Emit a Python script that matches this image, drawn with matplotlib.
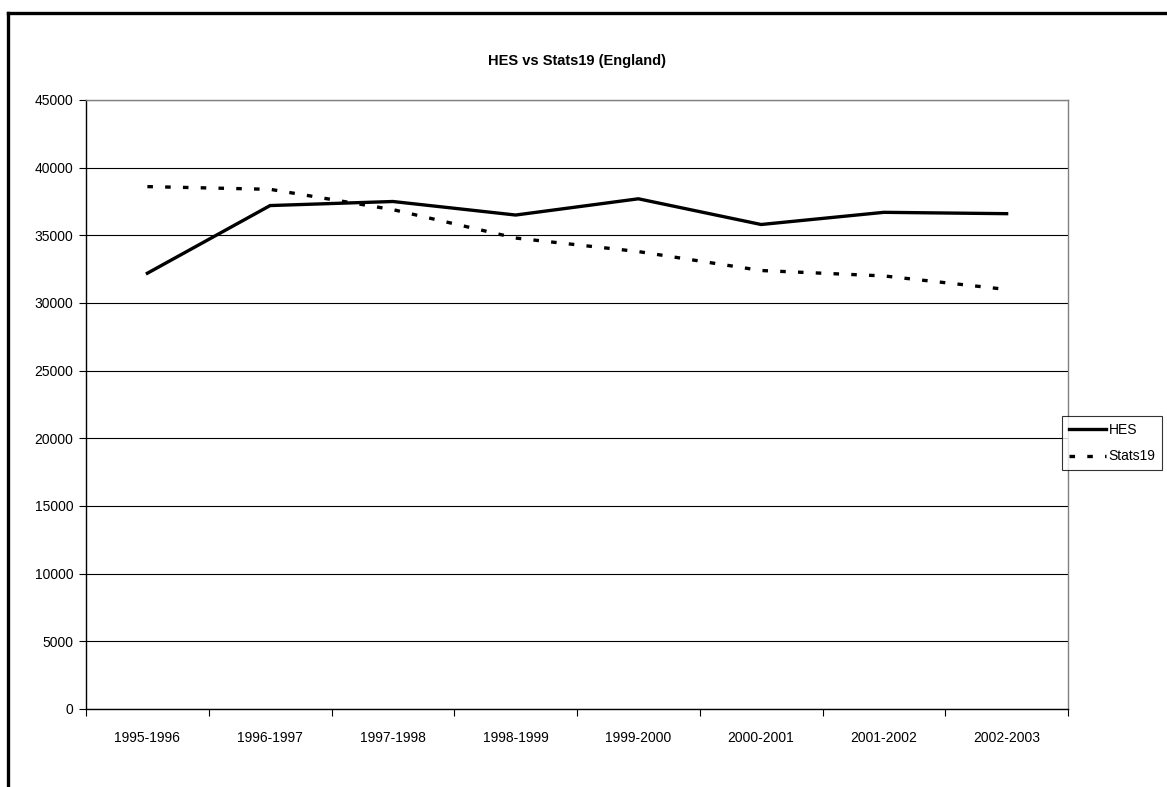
import matplotlib
matplotlib.use("Agg")
import matplotlib.pyplot as plt
from matplotlib.lines import Line2D

plt.rcParams['font.family'] = ['Liberation Sans Narrow', 'Liberation Sans', 'DejaVu Sans']

# Financial years and casualty counts
years = ['1995-1996', '1996-1997', '1997-1998', '1998-1999',
         '1999-2000', '2000-2001', '2001-2002', '2002-2003']
hes = [32200, 37200, 37500, 36500, 37700, 35800, 36700, 36600]
stats19 = [38600, 38400, 36900, 34800, 33800, 32400, 32000, 31000]
y_ticks = [0, 5000, 10000, 15000, 20000, 25000, 30000, 35000, 40000, 45000]

W, H = 1167, 787
fig = plt.figure(figsize=(W / 100, H / 100), dpi=100)

# Outer chart frame (runs off the right and bottom edges)
fig.add_artist(Line2D([8 / W, 8 / W], [0, 1 - 13 / H], transform=fig.transFigure,
                      color='black', lw=2.4, solid_capstyle='projecting'))
fig.add_artist(Line2D([8 / W, 1.01], [1 - 13 / H, 1 - 13 / H], transform=fig.transFigure,
                      color='black', lw=2.4, solid_capstyle='projecting'))

left, right, top, bottom = 86, 1068, 100, 709
ax = fig.add_axes([left / W, 1 - bottom / H, (right - left) / W, (bottom - top) / H])

x = list(range(len(years)))
lw = 2.4
dot_style = (0, (4.0 / lw, 8.8 / lw))
ax.plot(x, hes, color='black', lw=lw, solid_joinstyle='miter', label='HES', zorder=3)
ax.plot(x, stats19, color='black', lw=lw, linestyle=dot_style, dash_capstyle='butt',
        label='Stats19', zorder=3)

ax.set_xlim(-0.5, len(years) - 0.5)
ax.set_ylim(0, 45000)
ax.set_yticks(y_ticks)
ax.set_yticklabels([str(v) for v in y_ticks])
ax.yaxis.grid(True, color='black', lw=0.8)
ax.set_axisbelow(True)

# Category boundaries carry the tick marks, labels sit at category centres
ax.set_xticks([i - 0.5 for i in range(len(years) + 1)])
ax.set_xticklabels([])
ax.set_xticks(x, minor=True)
ax.set_xticklabels(years, minor=True)
ax.tick_params(axis='x', which='major', length=5, width=0.8, direction='out', color='black')
ax.tick_params(axis='x', which='minor', length=0, pad=16, labelsize=10)
ax.tick_params(axis='y', length=5, width=0.8, direction='out', labelsize=10, pad=4)

for s in ('top', 'right'):
    ax.spines[s].set_color('#808080')
    ax.spines[s].set_linewidth(1.0)
for s in ('left', 'bottom'):
    ax.spines[s].set_color('black')
    ax.spines[s].set_linewidth(1.0)

fig.text((left + right) / 2 / W, 1 - 61 / H, 'HES vs Stats19 (England)',
         ha='center', va='center', fontsize=10.5, fontweight='bold')

leg = fig.legend(loc='upper left', bbox_to_anchor=(1062 / W, 1 - 416 / H),
                 bbox_transform=fig.transFigure, fontsize=10, frameon=True,
                 fancybox=False, shadow=False, borderaxespad=0, borderpad=0.5,
                 handlelength=2.7, handletextpad=0.15, labelspacing=0.9)
leg.get_frame().set_edgecolor('black')
leg.get_frame().set_linewidth(0.8)

fig.savefig('out.png', dpi=100, facecolor='white')
